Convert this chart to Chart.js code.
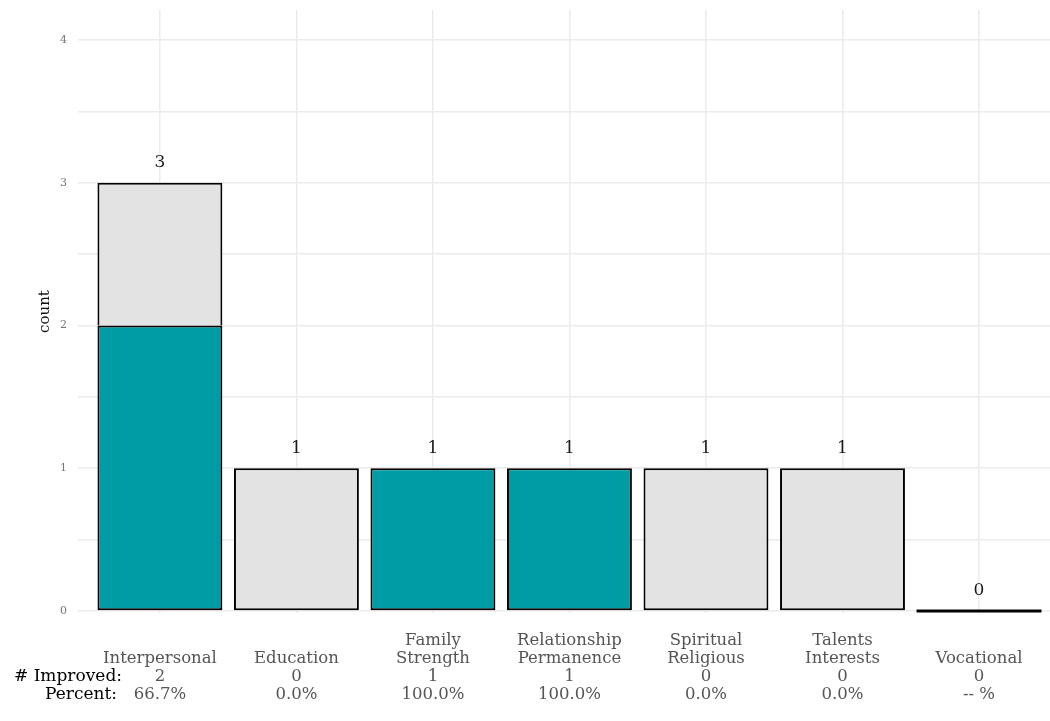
<!DOCTYPE html>
<html>
<head>
<meta charset="utf-8">
<title>Improvement by domain</title>
<script src="https://cdn.jsdelivr.net/npm/chart.js@4/dist/chart.umd.min.js"></script>
<style>
  html, body { margin: 0; padding: 0; background: #fff; }
  #wrap { width: 1050px; height: 721px; position: relative; }
</style>
</head>
<body>
<div id="wrap"><canvas id="countChart"></canvas></div>
<script>
// values
const categories = ['Interpersonal', 'Education', 'Family\nStrength', 'Relationship\nPermanence',
  'Spiritual\nReligious', 'Talents\nInterests', 'Vocational'];
const improved = [2, 0, 1, 1, 0, 0, 0];
const notImproved = [1, 1, 0, 0, 1, 1, 0];
const percentLabels = ['66.7%', '0.0%', '100.0%', '100.0%', '0.0%', '0.0%', '-- %'];
const yTicks = [0, 0.5, 1, 1.5, 2, 2.5, 3, 3.5, 4];

const teal = '#009ca6';
const grey = '#e3e3e3';
const serif = "'DejaVu Serif', serif";

const canvas = document.getElementById('countChart');

// y tick labels, totals above bars, the flat zero bar, and the row captions on the left
const annotations = {
  id: 'annotations',
  afterDatasetsDraw(chart) {
    const ctx = chart.ctx;
    const x = chart.scales.x;
    const y = chart.scales.y;
    const bar = chart.getDatasetMeta(0).data[0];
    const w = bar ? bar.width : 124;
    ctx.save();
    ctx.fillStyle = '#777';
    ctx.font = '11px ' + serif;
    ctx.textAlign = 'right';
    ctx.textBaseline = 'middle';
    yTicks.filter(v => Number.isInteger(v)).forEach(v => {
      ctx.fillText(String(v), chart.chartArea.left - 11, y.getPixelForValue(v));
    });
    categories.forEach((c, i) => {
      const total = improved[i] + notImproved[i];
      const px = x.getPixelForValue(i);
      if (total === 0) {
        ctx.fillStyle = '#000';
        ctx.fillRect(px - w / 2, y.getPixelForValue(0) - 1.5, w, 3);
      }
      ctx.fillStyle = '#1a1a1a';
      ctx.font = '17px ' + serif;
      ctx.textAlign = 'center';
      ctx.fillText(String(total), px, y.getPixelForValue(total) - 20);
    });
    const top = chart.chartArea.bottom + x.options.ticks.padding;
    ctx.fillStyle = '#000';
    ctx.font = '17px ' + serif;
    ctx.textAlign = 'right';
    ctx.fillText('# Improved:', 122, top + 18 * 2.5);
    ctx.fillText('Percent:', 117, top + 18 * 3.5);
    ctx.restore();
  }
};

new Chart(canvas, {
  type: 'bar',
  data: {
    datasets: [{
      label: 'Improved',
      data: improved.map((v, i) => ({ x: i, y: v })),
      backgroundColor: teal,
      borderColor: '#000',
      borderWidth: 2,
      borderSkipped: false
    }, {
      label: 'Not improved',
      data: notImproved.map((v, i) => ({ x: i, y: v })),
      backgroundColor: grey,
      borderColor: '#000',
      borderWidth: ctx => ({ top: 2, left: 2, right: 2, bottom: improved[ctx.dataIndex] > 0 ? 0 : 2 }),
      borderSkipped: false
    }]
  },
  options: {
    responsive: true,
    maintainAspectRatio: false,
    animation: false,
    layout: { padding: { top: 10, right: 0, bottom: 0, left: 0 } },
    categoryPercentage: 1,
    barPercentage: 0.915,
    plugins: { legend: { display: false }, tooltip: { enabled: false }, title: { display: false } },
    scales: {
      x: {
        type: 'linear',
        stacked: true,
        offset: false,
        min: -0.6,
        max: 6.52,
        afterBuildTicks: axis => { axis.ticks = categories.map((c, i) => ({ value: i })); },
        afterFit: axis => { axis.height = 108; },
        grid: { color: '#ebebeb', lineWidth: 1.5, drawTicks: false, offset: false },
        border: { display: false },
        ticks: {
          autoSkip: false,
          maxRotation: 0,
          padding: 19,
          color: '#555',
          font: { family: serif, size: 16.5, lineHeight: 18 / 16.5 },
          callback: (v) => {
            const i = Math.round(v);
            const name = categories[i].split('\n');
            if (name.length === 1) name.unshift('');
            return [...name, String(improved[i]), percentLabels[i]];
          }
        }
      },
      y: {
        stacked: true,
        min: -0.014,
        max: 4.21,
        afterBuildTicks: axis => { axis.ticks = yTicks.map(v => ({ value: v })); },
        afterFit: axis => { axis.width = 78; },
        grid: { color: '#ebebeb', lineWidth: 1.5, drawTicks: false },
        border: { display: false },
        ticks: { display: false },
        title: {
          display: true,
          text: 'count',
          color: '#111',
          font: { family: serif, size: 15 },
          padding: { top: 36, bottom: 0 }
        }
      }
    }
  },
  plugins: [annotations]
});
</script>
</body>
</html>
